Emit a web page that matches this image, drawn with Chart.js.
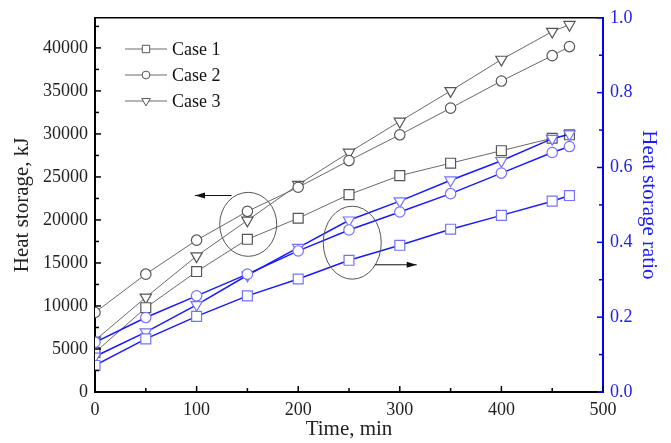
<!DOCTYPE html>
<html>
<head>
<meta charset="utf-8">
<script src="https://cdn.jsdelivr.net/npm/chart.js@4/dist/chart.umd.min.js"></script>
<style>
  html, body { margin: 0; padding: 0; background: #fff; }
  #wrap { width: 671px; height: 443px; }
</style>
</head>
<body>
<div id="wrap"><canvas id="heatChart" width="671" height="443"></canvas></div>
<script>
const times = [0, 50, 100, 150, 200, 250, 300, 350, 400, 450, 467];
const caseLabels = ['Case 1', 'Case 2', 'Case 3'];
const heatTicks = [0, 5000, 10000, 15000, 20000, 25000, 30000, 35000, 40000];

// heat storage, kJ (left axis)
const heatCase1 = [4600, 9800, 14000, 17750, 20200, 22950, 25150, 26600, 28050, 29500, 29900];
const heatCase2 = [9250, 13700, 17650, 21000, 23800, 26900, 29900, 33000, 36150, 39100, 40150];
const heatCase3 = [6000, 11000, 15800, 19950, 24100, 27850, 31450, 35000, 38650, 41900, 42700];

// heat storage ratio (right axis)
const ratioCase1 = [0.071, 0.142, 0.202, 0.257, 0.302, 0.352, 0.392, 0.435, 0.472, 0.510, 0.525];
const ratioCase2 = [0.133, 0.199, 0.257, 0.315, 0.377, 0.433, 0.481, 0.530, 0.585, 0.640, 0.656];
const ratioCase3 = [0.095, 0.160, 0.233, 0.312, 0.386, 0.459, 0.510, 0.566, 0.618, 0.677, 0.689];

const serif = "'Liberation Serif', 'DejaVu Serif', serif";
const grayLine = '#6a6a6a';
const grayMark = '#555555';
const blueLine = '#1a1aff';
const blueMark = '#7373ff';

const markers = [
    { style: 'rect', radius: 7, rotation: 0 },
    { style: 'circle', radius: 5.2, rotation: 0 },
    { style: 'triangle', radius: 6.5, rotation: 180 }
];

function toPoints(values) {
    return values.map((v, i) => ({ x: times[i], y: v }));
}

function makeSet(label, values, axis, idx, blue) {
    return {
        label: label,
        data: toPoints(values),
        yAxisID: axis,
        borderColor: blue ? blueLine : grayLine,
        borderWidth: blue ? 1.5 : 1,
        pointStyle: markers[idx].style,
        pointRadius: markers[idx].radius,
        pointRotation: markers[idx].rotation,
        pointBorderColor: blue ? blueMark : grayMark,
        pointBackgroundColor: '#ffffff',
        pointBorderWidth: 1.2,
        fill: false,
        tension: 0
    };
}

// extra drawing: inside ticks, top frame, legend and annotations
const decorPlugin = {
    id: 'decor',
    afterDraw(chart) {
        const ctx = chart.ctx;
        const area = chart.chartArea;
        const xs = chart.scales.x, yl = chart.scales.y, yr = chart.scales.y1;
        ctx.save();

        // top frame
        ctx.strokeStyle = '#000';
        ctx.lineWidth = 1.5;
        ctx.beginPath();
        ctx.moveTo(area.left, area.top);
        ctx.lineTo(area.right, area.top);
        ctx.stroke();

        // ticks pointing inward
        ctx.lineWidth = 1.5;
        ctx.strokeStyle = '#000';
        for (let v = 0; v <= 500; v += 50) {
            const px = xs.getPixelForValue(v);
            const len = v % 100 === 0 ? 6 : 4;
            ctx.beginPath();
            ctx.moveTo(px, area.bottom);
            ctx.lineTo(px, area.bottom - len);
            ctx.stroke();
        }
        for (let v = 0; v <= 43500; v += 2500) {
            const py = yl.getPixelForValue(v);
            const len = v % 5000 === 0 ? 6 : 4;
            ctx.beginPath();
            ctx.moveTo(area.left, py);
            ctx.lineTo(area.left + len, py);
            ctx.stroke();
        }
        ctx.strokeStyle = '#0000ff';
        for (let k = 0; k <= 10; k++) {
            const py = yr.getPixelForValue(k / 10);
            const len = k % 2 === 0 ? 6 : 4;
            ctx.beginPath();
            ctx.moveTo(area.right, py);
            ctx.lineTo(area.right - len, py);
            ctx.stroke();
        }

        // legend
        const rows = [49, 75, 101];
        ctx.font = '18px ' + serif;
        ctx.textBaseline = 'middle';
        caseLabels.forEach((name, i) => {
            const y = rows[i];
            ctx.strokeStyle = grayLine;
            ctx.lineWidth = 1;
            ctx.beginPath();
            ctx.moveTo(125, y);
            ctx.lineTo(167, y);
            ctx.stroke();
            ctx.strokeStyle = grayMark;
            ctx.fillStyle = '#fff';
            const m = markers[i];
            Chart.helpers.drawPoint(ctx, {
                pointStyle: m.style, radius: m.radius * 0.75, rotation: m.rotation, borderWidth: 1.2
            }, 146, y);
            ctx.fillStyle = '#111';
            ctx.fillText(name, 172, y + 1);
        });

        // annotation ellipses and arrows
        ctx.strokeStyle = '#555';
        ctx.lineWidth = 1;
        ctx.beginPath();
        ctx.ellipse(xs.getPixelForValue(150.8), yl.getPixelForValue(19490), 28.5, 32, 0, 0, Math.PI * 2);
        ctx.stroke();
        ctx.beginPath();
        ctx.ellipse(xs.getPixelForValue(253.2), yr.getPixelForValue(0.399), 29, 36.5, 0, 0, Math.PI * 2);
        ctx.stroke();

        function arrow(x1, y1, x2, y2) {
            ctx.strokeStyle = '#111';
            ctx.fillStyle = '#111';
            ctx.lineWidth = 1;
            ctx.beginPath();
            ctx.moveTo(x1, y1);
            ctx.lineTo(x2, y2);
            ctx.stroke();
            const dir = Math.sign(x2 - x1);
            ctx.beginPath();
            ctx.moveTo(x2, y2);
            ctx.lineTo(x2 - dir * 10, y2 - 3);
            ctx.lineTo(x2 - dir * 10, y2 + 3);
            ctx.closePath();
            ctx.fill();
        }
        const ya = yl.getPixelForValue(22840);
        arrow(xs.getPixelForValue(134.5), ya, xs.getPixelForValue(98.4), ya);
        const yb = yr.getPixelForValue(0.34);
        arrow(xs.getPixelForValue(275.6), yb, xs.getPixelForValue(316.6), yb);

        ctx.restore();
    }
};

const ctx = document.getElementById('heatChart').getContext('2d');
const heatChart = new Chart(ctx, {
    type: 'line',
    data: {
        datasets: [
            makeSet(caseLabels[0] + ' ratio', ratioCase1, 'y1', 0, true),
            makeSet(caseLabels[1] + ' ratio', ratioCase2, 'y1', 1, true),
            makeSet(caseLabels[2] + ' ratio', ratioCase3, 'y1', 2, true),
            makeSet(caseLabels[0], heatCase1, 'y', 0, false),
            makeSet(caseLabels[1], heatCase2, 'y', 1, false),
            makeSet(caseLabels[2], heatCase3, 'y', 2, false)
        ]
    },
    options: {
        responsive: false,
        animation: false,
        layout: { padding: { top: 16, left: 0, right: 0, bottom: 0 } },
        plugins: {
            legend: { display: false },
            tooltip: { enabled: false }
        },
        scales: {
            x: {
                type: 'linear',
                min: 0,
                max: 500,
                afterFit: (s) => { s.height = 51; },
                grid: { display: false, drawTicks: false },
                border: { display: true, color: '#000', width: 2 },
                ticks: {
                    stepSize: 100,
                    padding: 7,
                    color: '#222',
                    font: { family: serif, size: 18 },
                    maxRotation: 0
                },
                title: {
                    display: true,
                    text: 'Time, min',
                    color: '#222',
                    font: { family: serif, size: 21 },
                    padding: { top: 0, bottom: 1 }
                }
            },
            y: {
                position: 'left',
                min: 0,
                max: 43500,
                afterBuildTicks: (s) => { s.ticks = heatTicks.map(v => ({ value: v })); },
                afterFit: (s) => { s.width = 95; },
                grid: { display: false, drawTicks: false },
                border: { display: true, color: '#000', width: 2 },
                ticks: {
                    padding: 7,
                    color: '#222',
                    font: { family: serif, size: 18 },
                    callback: (v) => String(v)
                },
                title: {
                    display: true,
                    text: 'Heat storage, kJ',
                    color: '#222',
                    font: { family: serif, size: 21 },
                    padding: { top: 10, bottom: 10 }
                }
            },
            y1: {
                position: 'right',
                min: 0,
                max: 1,
                afterFit: (s) => { s.width = 68; },
                grid: { display: false, drawTicks: false },
                border: { display: true, color: '#0000ff', width: 2 },
                ticks: {
                    stepSize: 0.2,
                    padding: 7,
                    color: '#2222ee',
                    font: { family: serif, size: 18 },
                    callback: (v) => Number(v).toFixed(1)
                },
                title: {
                    display: true,
                    text: 'Heat storage ratio',
                    color: '#1a1aff',
                    font: { family: serif, size: 21 },
                    padding: { top: 10, bottom: 10 }
                }
            }
        }
    },
    plugins: [decorPlugin]
});
</script>
</body>
</html>
